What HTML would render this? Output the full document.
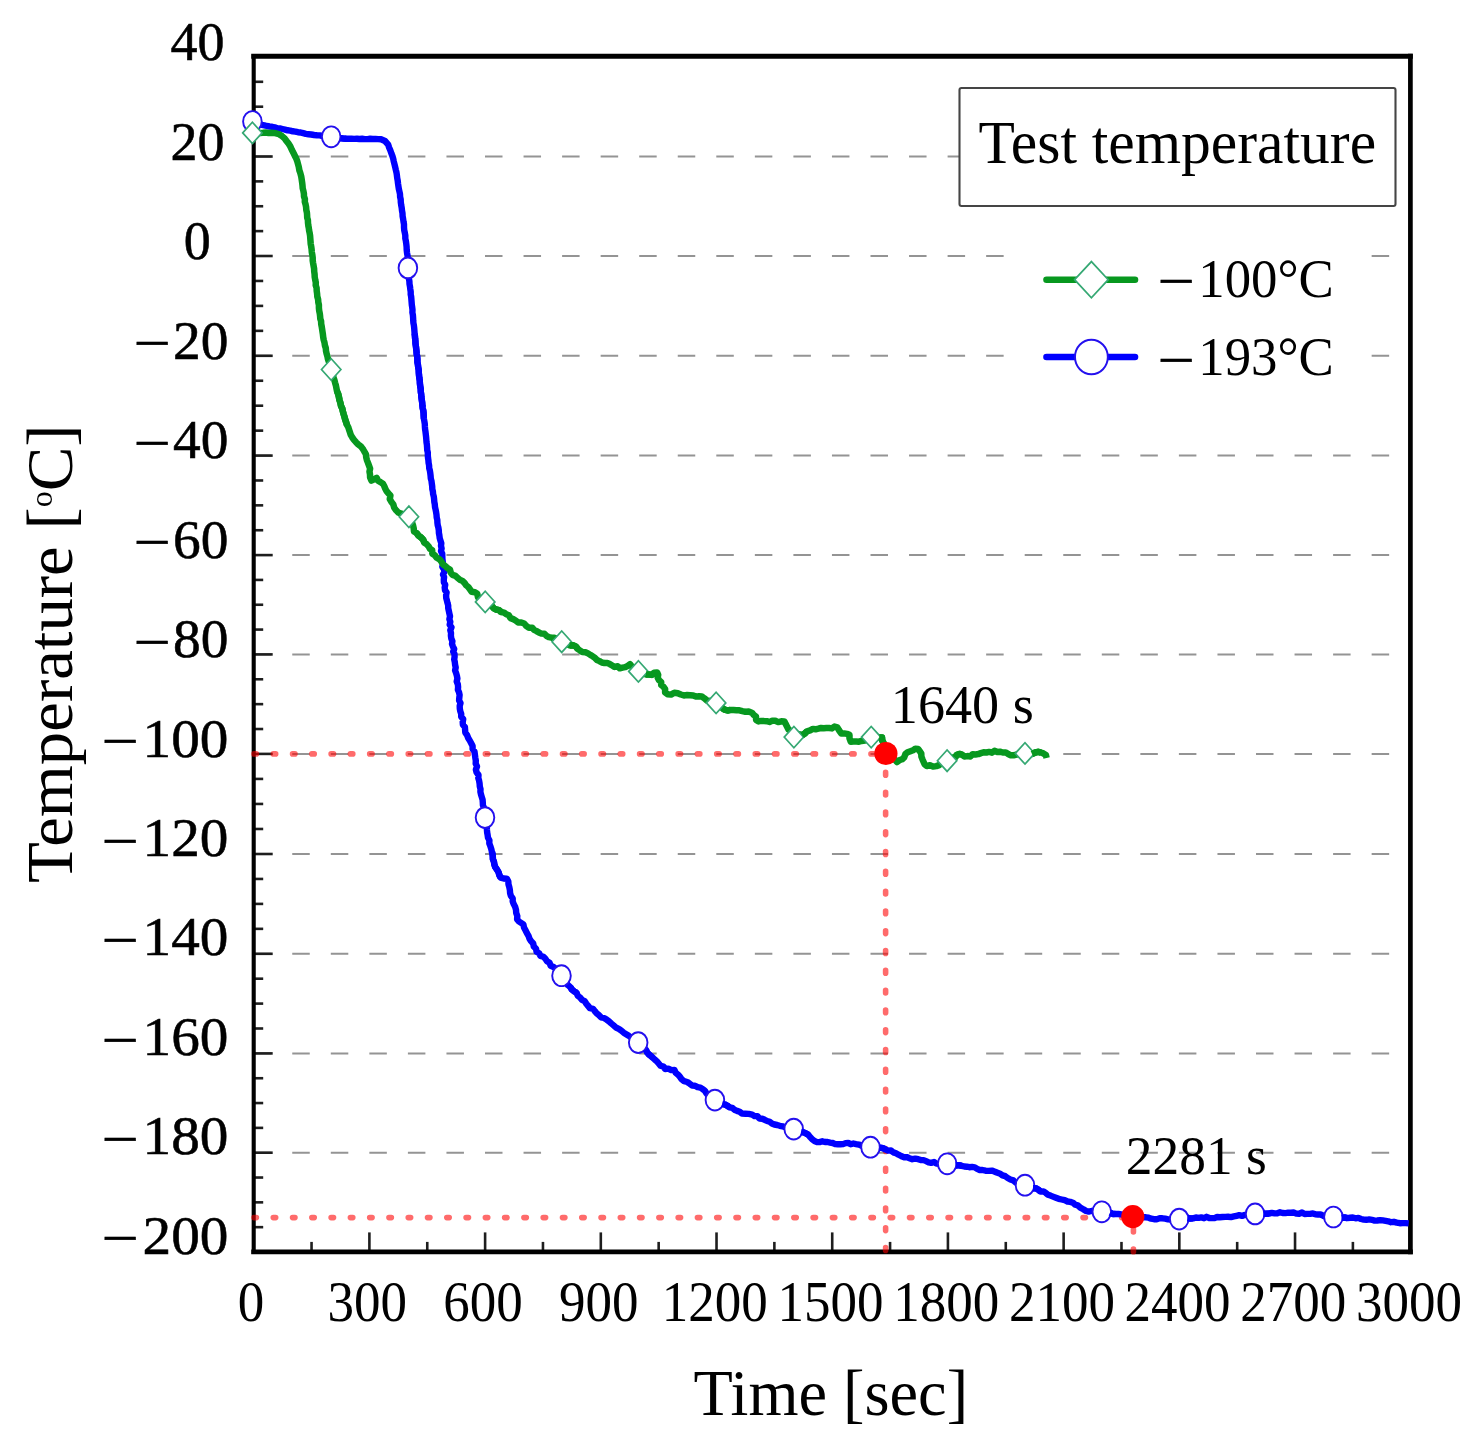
<!DOCTYPE html>
<html lang="en"><head><meta charset="utf-8"><title>Temperature vs time</title>
<style>html,body{margin:0;padding:0;background:#fff}svg{display:block}text{font-family:"Liberation Serif","DejaVu Serif",serif;fill:#000}</style></head><body>
<svg width="1475" height="1447" viewBox="0 0 1475 1447">
<rect x="0" y="0" width="1475" height="1447" fill="#fff"/>
<g stroke="#949494" stroke-width="2.0" stroke-dasharray="17.5 21.05" fill="none">
<line x1="253.70" y1="156.50" x2="1392.40" y2="156.50"/>
<line x1="253.70" y1="256.00" x2="1392.40" y2="256.00"/>
<line x1="253.70" y1="355.80" x2="1392.40" y2="355.80"/>
<line x1="253.70" y1="455.60" x2="1392.40" y2="455.60"/>
<line x1="253.70" y1="555.10" x2="1392.40" y2="555.10"/>
<line x1="253.70" y1="654.40" x2="1392.40" y2="654.40"/>
<line x1="253.70" y1="753.90" x2="888.50" y2="753.90"/>
<line x1="1063.25" y1="753.90" x2="1392.40" y2="753.90"/>
<line x1="253.70" y1="854.00" x2="1392.40" y2="854.00"/>
<line x1="253.70" y1="953.80" x2="1392.40" y2="953.80"/>
<line x1="253.70" y1="1053.40" x2="1392.40" y2="1053.40"/>
<line x1="253.70" y1="1152.70" x2="1392.40" y2="1152.70"/>
</g>
<rect x="1014" y="232" width="350" height="170" fill="#fff"/>
<rect x="959.5" y="88" width="436" height="118" rx="2" fill="#fff" stroke="#454545" stroke-width="2.1"/>
<g stroke="#1e1e1e" stroke-width="2.6" fill="none">
<line x1="253.70" y1="81.80" x2="263.20" y2="81.80"/>
<line x1="253.70" y1="106.70" x2="263.20" y2="106.70"/>
<line x1="253.70" y1="131.60" x2="263.20" y2="131.60"/>
<line x1="253.70" y1="156.50" x2="272.70" y2="156.50"/>
<line x1="253.70" y1="181.38" x2="263.20" y2="181.38"/>
<line x1="253.70" y1="206.25" x2="263.20" y2="206.25"/>
<line x1="253.70" y1="231.12" x2="263.20" y2="231.12"/>
<line x1="253.70" y1="256.00" x2="272.70" y2="256.00"/>
<line x1="253.70" y1="280.95" x2="263.20" y2="280.95"/>
<line x1="253.70" y1="305.90" x2="263.20" y2="305.90"/>
<line x1="253.70" y1="330.85" x2="263.20" y2="330.85"/>
<line x1="253.70" y1="355.80" x2="272.70" y2="355.80"/>
<line x1="253.70" y1="380.75" x2="263.20" y2="380.75"/>
<line x1="253.70" y1="405.70" x2="263.20" y2="405.70"/>
<line x1="253.70" y1="430.65" x2="263.20" y2="430.65"/>
<line x1="253.70" y1="455.60" x2="272.70" y2="455.60"/>
<line x1="253.70" y1="480.48" x2="263.20" y2="480.48"/>
<line x1="253.70" y1="505.35" x2="263.20" y2="505.35"/>
<line x1="253.70" y1="530.23" x2="263.20" y2="530.23"/>
<line x1="253.70" y1="555.10" x2="272.70" y2="555.10"/>
<line x1="253.70" y1="579.92" x2="263.20" y2="579.92"/>
<line x1="253.70" y1="604.75" x2="263.20" y2="604.75"/>
<line x1="253.70" y1="629.58" x2="263.20" y2="629.58"/>
<line x1="253.70" y1="654.40" x2="272.70" y2="654.40"/>
<line x1="253.70" y1="679.27" x2="263.20" y2="679.27"/>
<line x1="253.70" y1="704.15" x2="263.20" y2="704.15"/>
<line x1="253.70" y1="729.02" x2="263.20" y2="729.02"/>
<line x1="253.70" y1="753.90" x2="272.70" y2="753.90"/>
<line x1="253.70" y1="778.92" x2="263.20" y2="778.92"/>
<line x1="253.70" y1="803.95" x2="263.20" y2="803.95"/>
<line x1="253.70" y1="828.98" x2="263.20" y2="828.98"/>
<line x1="253.70" y1="854.00" x2="272.70" y2="854.00"/>
<line x1="253.70" y1="878.95" x2="263.20" y2="878.95"/>
<line x1="253.70" y1="903.90" x2="263.20" y2="903.90"/>
<line x1="253.70" y1="928.85" x2="263.20" y2="928.85"/>
<line x1="253.70" y1="953.80" x2="272.70" y2="953.80"/>
<line x1="253.70" y1="978.70" x2="263.20" y2="978.70"/>
<line x1="253.70" y1="1003.60" x2="263.20" y2="1003.60"/>
<line x1="253.70" y1="1028.50" x2="263.20" y2="1028.50"/>
<line x1="253.70" y1="1053.40" x2="272.70" y2="1053.40"/>
<line x1="253.70" y1="1078.23" x2="263.20" y2="1078.23"/>
<line x1="253.70" y1="1103.05" x2="263.20" y2="1103.05"/>
<line x1="253.70" y1="1127.88" x2="263.20" y2="1127.88"/>
<line x1="253.70" y1="1152.70" x2="272.70" y2="1152.70"/>
<line x1="253.70" y1="1177.53" x2="263.20" y2="1177.53"/>
<line x1="253.70" y1="1202.35" x2="263.20" y2="1202.35"/>
<line x1="253.70" y1="1227.17" x2="263.20" y2="1227.17"/>
<line x1="311.55" y1="1251.90" x2="311.55" y2="1241.90"/>
<line x1="369.40" y1="1251.90" x2="369.40" y2="1232.40"/>
<line x1="427.26" y1="1251.90" x2="427.26" y2="1241.90"/>
<line x1="485.11" y1="1251.90" x2="485.11" y2="1232.40"/>
<line x1="542.96" y1="1251.90" x2="542.96" y2="1241.90"/>
<line x1="600.81" y1="1251.90" x2="600.81" y2="1232.40"/>
<line x1="658.66" y1="1251.90" x2="658.66" y2="1241.90"/>
<line x1="716.52" y1="1251.90" x2="716.52" y2="1232.40"/>
<line x1="774.37" y1="1251.90" x2="774.37" y2="1241.90"/>
<line x1="832.22" y1="1251.90" x2="832.22" y2="1232.40"/>
<line x1="890.07" y1="1251.90" x2="890.07" y2="1241.90"/>
<line x1="947.92" y1="1251.90" x2="947.92" y2="1232.40"/>
<line x1="1005.78" y1="1251.90" x2="1005.78" y2="1241.90"/>
<line x1="1063.63" y1="1251.90" x2="1063.63" y2="1232.40"/>
<line x1="1121.48" y1="1251.90" x2="1121.48" y2="1241.90"/>
<line x1="1179.33" y1="1251.90" x2="1179.33" y2="1232.40"/>
<line x1="1237.18" y1="1251.90" x2="1237.18" y2="1241.90"/>
<line x1="1295.04" y1="1251.90" x2="1295.04" y2="1232.40"/>
<line x1="1352.89" y1="1251.90" x2="1352.89" y2="1241.90"/>
</g>
<g stroke="#000" stroke-linecap="square" fill="none"><line x1="253.70" y1="56.20" x2="253.70" y2="1251.90" stroke-width="4.1"/><line x1="1410.40" y1="56.20" x2="1410.40" y2="1251.90" stroke-width="4.7"/><line x1="253.70" y1="56.20" x2="1410.40" y2="56.20" stroke-width="4.9"/><line x1="253.70" y1="1251.90" x2="1410.40" y2="1251.90" stroke-width="4.9"/></g>
<g stroke="#ff0000" stroke-opacity="0.58" stroke-width="5.6" stroke-linecap="round" fill="none">
<line x1="254.0" y1="753.90" x2="878.22" y2="753.90" stroke-dasharray="2.4 16.88"/>
<line x1="254.0" y1="1217.60" x2="1125.44" y2="1217.60" stroke-dasharray="2.4 16.88"/>
<line x1="885.62" y1="772.4" x2="885.62" y2="1252" stroke-dasharray="2.8 17.0"/>
<line x1="1133.44" y1="1229.2" x2="1133.44" y2="1254" stroke-dasharray="2.8 17.0"/>
</g>
<path d="M252.9 121.8 L255.9 122.7 L258.8 123.9 L261.8 124.9 L264.4 125.4 L266.9 126.0 L269.5 126.5 L272.1 126.8 L274.7 127.3 L277.2 128.2 L279.9 128.4 L282.4 129.0 L285.0 129.6 L287.6 130.3 L290.2 130.6 L292.8 131.3 L295.4 131.6 L298.0 132.2 L300.6 132.5 L303.2 133.2 L305.8 133.9 L308.4 134.2 L311.2 134.5 L314.1 135.0 L316.9 135.3 L319.8 135.4 L322.6 136.0 L325.5 136.3 L328.4 136.5 L331.2 136.9 L334.4 137.1 L337.4 137.9 L340.6 138.2 L343.7 138.6 L346.3 138.7 L349.0 138.8 L351.6 138.8 L354.2 138.9 L356.9 138.7 L359.5 139.0 L362.2 138.8 L364.8 139.1 L367.4 139.1 L370.1 138.8 L372.7 139.0 L375.5 138.9 L378.2 139.1 L381.0 139.3 L385.0 141.0 L388.2 144.6 L389.1 147.5 L390.3 150.3 L391.3 153.2 L392.4 156.0 L393.2 158.7 L393.8 161.5 L394.5 164.3 L395.2 167.1 L395.8 169.8 L396.5 172.6 L396.9 175.3 L397.2 178.0 L397.7 180.7 L398.0 183.4 L398.4 186.1 L398.8 188.8 L399.4 191.4 L400.0 194.1 L400.1 196.8 L400.7 199.5 L400.8 202.3 L401.2 205.1 L401.7 207.8 L402.0 210.6 L402.5 213.3 L402.6 216.1 L403.1 218.9 L403.5 221.6 L404.0 224.4 L404.0 227.2 L404.2 230.0 L404.8 232.7 L405.3 235.5 L405.3 238.4 L405.9 241.2 L406.3 244.1 L406.6 246.9 L406.7 249.8 L407.0 252.7 L407.5 255.5 L407.8 258.6 L407.6 261.7 L408.0 264.8 L407.9 267.9 L408.1 270.6 L408.6 273.2 L408.6 275.9 L408.9 278.6 L409.4 281.3 L409.5 284.0 L410.0 286.6 L410.3 289.2 L410.7 291.8 L410.7 294.4 L411.2 296.9 L411.4 299.5 L411.6 302.1 L411.8 304.7 L412.2 307.3 L412.5 309.9 L412.4 312.5 L412.9 315.1 L413.1 317.7 L413.2 320.3 L413.4 322.9 L413.9 325.5 L414.2 328.1 L414.4 330.7 L414.6 333.3 L414.9 335.8 L415.1 338.4 L415.4 341.0 L415.5 343.6 L415.9 346.2 L416.2 348.8 L416.5 351.4 L416.7 354.1 L417.2 356.7 L417.4 359.3 L417.4 362.0 L417.9 364.6 L418.2 367.3 L418.7 369.9 L418.8 372.5 L419.0 375.2 L419.3 377.8 L419.8 380.6 L419.9 383.4 L420.2 386.1 L420.7 388.9 L420.8 391.7 L421.2 394.4 L421.4 397.2 L421.8 400.0 L422.2 402.7 L422.4 405.4 L422.7 408.1 L423.3 410.7 L423.6 413.4 L423.7 416.1 L423.9 418.8 L424.4 421.5 L424.8 424.1 L424.9 426.7 L425.1 429.3 L425.5 431.8 L425.8 434.4 L426.1 437.0 L426.3 439.6 L426.5 442.2 L426.9 444.8 L427.1 447.4 L427.2 450.0 L427.8 452.5 L427.8 455.1 L428.0 457.7 L428.4 460.3 L428.6 462.9 L429.1 465.5 L429.2 468.1 L429.9 470.7 L430.3 473.3 L430.6 475.9 L430.8 478.5 L431.5 481.0 L431.8 483.6 L432.2 486.2 L432.3 488.9 L432.9 491.4 L433.1 494.0 L433.8 496.6 L434.1 499.2 L434.3 501.8 L434.8 504.4 L435.0 507.0 L435.6 509.6 L436.1 512.2 L436.5 514.7 L436.7 517.4 L437.3 519.9 L437.4 522.6 L437.7 525.2 L438.4 527.7 L438.8 530.3 L438.9 533.0 L439.4 535.5 L439.7 538.1 L440.5 540.7 L441.3 543.2 L441.0 545.9 L441.6 548.5 L441.0 551.1 L442.2 553.6 L442.3 556.2 L442.4 558.8 L442.7 561.4 L443.0 564.0 L442.3 566.7 L443.9 569.2 L444.5 571.7 L443.0 574.5 L444.1 577.0 L443.8 579.7 L443.9 582.3 L445.2 584.8 L444.7 587.5 L445.0 590.1 L446.6 592.5 L446.1 595.2 L446.2 597.8 L446.9 600.4 L447.5 602.9 L448.2 605.5 L448.2 608.1 L448.8 610.8 L449.4 613.6 L450.0 616.3 L449.4 619.2 L450.3 621.8 L449.7 624.7 L451.5 627.3 L450.3 630.3 L451.0 633.0 L450.9 635.8 L451.3 638.5 L452.4 641.2 L452.0 643.9 L452.9 646.4 L454.2 648.9 L453.2 651.7 L454.5 654.1 L454.6 656.8 L454.2 659.4 L454.8 662.0 L455.1 664.8 L455.7 667.5 L455.1 670.4 L456.1 673.1 L456.9 675.9 L457.4 678.6 L456.7 681.5 L457.8 684.2 L458.1 687.0 L457.9 689.7 L459.0 692.3 L459.6 695.0 L459.3 697.8 L459.1 700.5 L460.5 703.1 L459.7 705.9 L459.8 708.6 L460.3 711.3 L461.2 713.9 L461.2 716.7 L463.2 719.1 L462.7 722.0 L462.9 724.7 L464.9 727.1 L465.1 729.8 L465.3 732.6 L467.1 735.1 L468.2 738.0 L469.8 740.6 L471.2 743.3 L472.6 746.0 L472.6 749.0 L474.5 751.7 L474.9 754.7 L475.3 757.7 L475.8 760.6 L475.7 763.7 L477.0 766.4 L475.9 769.6 L476.6 772.4 L478.5 775.0 L478.3 778.0 L479.1 780.7 L479.6 783.6 L479.8 786.5 L480.5 789.1 L480.4 791.9 L481.0 794.5 L481.8 797.1 L482.6 799.7 L482.8 802.4 L482.9 805.1 L484.1 808.1 L483.9 811.4 L484.1 814.5 L485.0 817.6 L485.6 820.5 L486.6 823.3 L486.8 826.2 L486.9 829.2 L487.1 832.1 L487.6 834.9 L488.0 837.8 L489.4 840.3 L489.3 843.3 L490.3 846.0 L491.2 848.7 L491.8 851.3 L492.5 853.8 L492.8 856.4 L492.9 859.1 L493.9 861.6 L494.3 864.2 L495.2 867.0 L496.9 869.6 L498.5 872.1 L499.3 875.0 L500.6 877.7 L503.6 878.5 L506.8 878.7 L508.3 881.3 L508.5 884.4 L509.3 887.2 L509.9 890.1 L510.1 893.1 L510.9 895.9 L512.7 898.3 L512.7 901.4 L513.7 904.1 L515.1 906.7 L516.0 909.8 L516.2 912.9 L517.3 916.0 L517.1 919.2 L518.8 921.4 L521.1 922.9 L523.4 924.4 L524.0 927.5 L525.5 930.3 L526.9 933.1 L528.5 935.8 L529.5 938.7 L531.1 941.2 L533.2 943.5 L533.8 946.5 L536.0 948.7 L536.6 951.8 L539.1 953.2 L540.4 955.9 L543.4 956.8 L545.4 958.8 L547.0 961.2 L549.6 962.8 L550.7 965.8 L553.6 967.0 L555.9 968.9 L556.9 972.0 L559.9 973.1 L561.5 975.7 L562.8 978.3 L564.8 980.3 L566.3 982.7 L567.9 985.1 L570.2 986.9 L571.7 989.3 L573.9 991.2 L576.6 992.7 L577.7 995.7 L580.1 997.5 L581.9 999.8 L584.7 1001.1 L586.3 1003.7 L588.1 1005.9 L589.9 1008.1 L593.1 1008.8 L594.8 1011.1 L596.6 1013.3 L598.8 1015.1 L601.0 1017.3 L604.0 1018.0 L606.6 1019.6 L609.0 1021.4 L611.2 1023.4 L613.6 1025.4 L615.9 1027.5 L618.8 1028.8 L621.3 1030.6 L623.7 1032.7 L626.2 1034.2 L628.7 1035.8 L631.0 1037.5 L633.8 1038.7 L635.8 1041.0 L638.2 1042.6 L639.4 1045.1 L641.9 1046.2 L643.3 1048.5 L645.9 1049.7 L647.0 1052.2 L648.7 1054.2 L650.7 1055.9 L652.7 1057.6 L654.7 1059.5 L656.9 1061.4 L658.7 1063.5 L660.5 1065.7 L663.5 1066.6 L665.1 1069.0 L668.3 1068.6 L671.3 1070.1 L674.5 1070.0 L675.7 1072.8 L678.1 1074.7 L680.0 1076.9 L681.7 1079.3 L684.1 1081.2 L687.2 1082.0 L689.7 1083.7 L692.1 1085.6 L695.0 1085.7 L697.6 1087.1 L700.4 1087.6 L702.7 1089.1 L704.9 1090.8 L706.4 1093.2 L708.2 1095.4 L711.0 1096.3 L712.6 1098.6 L714.9 1100.1 L717.4 1101.2 L719.5 1103.1 L722.1 1103.8 L724.8 1104.5 L727.2 1105.6 L729.4 1107.3 L732.3 1107.8 L734.4 1109.8 L737.0 1110.9 L739.7 1111.8 L741.9 1113.6 L745.4 1113.7 L748.8 1113.9 L752.2 1114.6 L754.5 1116.1 L757.4 1116.1 L759.4 1118.5 L762.2 1118.7 L764.7 1119.8 L767.1 1121.0 L769.7 1121.8 L771.9 1123.5 L774.4 1124.5 L777.1 1125.0 L779.8 1125.8 L782.6 1126.3 L785.3 1127.4 L788.0 1128.4 L791.0 1128.2 L793.7 1129.1 L796.0 1130.4 L798.3 1131.8 L801.0 1131.9 L803.6 1132.4 L806.0 1133.4 L808.3 1134.8 L810.1 1137.1 L812.2 1139.2 L814.5 1141.0 L817.0 1142.1 L819.6 1142.1 L822.3 1141.3 L824.9 1142.0 L827.6 1142.0 L830.1 1142.6 L832.7 1143.0 L835.2 1144.1 L837.8 1144.2 L840.5 1144.2 L843.1 1144.1 L845.6 1143.1 L848.2 1142.9 L850.7 1144.3 L853.4 1143.5 L856.0 1144.1 L858.9 1144.6 L861.7 1145.7 L864.9 1145.2 L867.8 1145.9 L870.5 1147.2 L873.6 1148.0 L876.7 1147.3 L879.8 1147.7 L882.9 1148.2 L885.4 1149.4 L888.0 1150.6 L891.0 1150.5 L893.3 1152.4 L896.0 1153.3 L898.5 1154.7 L901.1 1156.0 L903.7 1157.2 L906.7 1157.1 L909.5 1158.2 L912.3 1159.2 L915.3 1158.6 L918.2 1159.2 L920.8 1160.1 L923.6 1160.1 L926.1 1161.1 L928.6 1162.3 L931.2 1162.8 L934.0 1162.0 L936.5 1163.6 L939.2 1163.9 L941.9 1162.6 L944.5 1164.4 L947.2 1163.8 L950.1 1164.0 L952.9 1165.1 L955.8 1165.5 L958.9 1165.1 L961.7 1165.9 L964.3 1166.5 L966.9 1166.7 L969.4 1167.2 L972.1 1166.9 L974.8 1167.3 L977.2 1168.9 L979.7 1170.0 L982.5 1170.0 L985.6 1170.7 L988.7 1170.9 L991.9 1170.6 L994.9 1171.7 L997.5 1172.8 L1000.2 1173.7 L1002.5 1175.4 L1005.3 1176.2 L1007.7 1178.0 L1010.4 1179.5 L1013.3 1180.4 L1015.6 1182.5 L1018.7 1183.7 L1021.8 1184.5 L1025.0 1185.2 L1027.9 1185.6 L1030.1 1187.7 L1033.0 1188.2 L1035.9 1188.2 L1038.4 1189.7 L1040.5 1191.6 L1043.5 1191.4 L1045.8 1192.9 L1048.0 1194.7 L1050.5 1195.6 L1053.0 1196.6 L1055.9 1197.7 L1058.7 1198.8 L1061.7 1199.5 L1064.7 1200.2 L1067.5 1201.5 L1070.3 1201.9 L1072.9 1202.7 L1075.1 1204.7 L1077.8 1205.3 L1080.3 1207.6 L1083.3 1209.2 L1086.1 1211.0 L1088.7 1211.6 L1091.3 1211.0 L1094.0 1211.0 L1096.6 1211.3 L1099.1 1212.3 L1101.8 1211.8 L1104.7 1211.4 L1107.3 1212.6 L1110.1 1212.6 L1112.8 1214.0 L1115.6 1213.9 L1118.5 1214.0 L1121.3 1214.4 L1124.2 1214.9 L1127.0 1215.6 L1129.8 1216.4 L1132.7 1216.3 L1135.4 1216.4 L1137.9 1217.6 L1140.7 1216.6 L1143.3 1217.3 L1146.0 1217.3 L1148.6 1217.7 L1151.2 1218.7 L1154.0 1219.2 L1156.8 1219.2 L1159.6 1218.3 L1162.4 1218.3 L1165.2 1218.7 L1168.0 1219.4 L1170.8 1219.5 L1173.6 1219.5 L1176.4 1219.2 L1179.2 1219.1 L1181.9 1218.3 L1184.8 1218.6 L1187.5 1218.0 L1190.3 1218.5 L1193.1 1218.4 L1195.9 1217.5 L1198.7 1217.9 L1201.3 1217.4 L1204.0 1218.2 L1206.6 1216.8 L1209.3 1218.0 L1211.9 1218.1 L1214.5 1218.1 L1217.1 1217.0 L1219.8 1217.2 L1222.4 1217.0 L1225.3 1216.9 L1228.1 1216.8 L1231.0 1217.1 L1233.8 1216.4 L1236.6 1215.8 L1239.2 1215.2 L1242.0 1215.9 L1244.5 1215.0 L1247.2 1214.9 L1249.9 1214.8 L1252.4 1213.3 L1255.1 1213.9 L1257.9 1214.3 L1260.7 1214.0 L1263.5 1213.7 L1266.2 1213.7 L1269.0 1213.5 L1271.8 1212.9 L1274.6 1213.4 L1277.3 1213.3 L1280.0 1212.3 L1282.7 1213.0 L1285.5 1213.1 L1288.2 1212.7 L1290.9 1212.7 L1293.6 1212.5 L1296.3 1213.6 L1299.1 1213.7 L1302.0 1212.5 L1304.6 1214.0 L1307.4 1213.9 L1310.2 1213.9 L1312.9 1213.4 L1315.4 1214.3 L1318.0 1214.5 L1320.6 1214.5 L1323.1 1215.7 L1325.6 1216.7 L1328.3 1216.0 L1330.7 1217.3 L1333.4 1217.0 L1336.2 1217.4 L1339.0 1216.5 L1341.7 1217.9 L1344.5 1217.5 L1347.3 1218.1 L1350.1 1217.8 L1352.9 1217.5 L1355.6 1218.3 L1358.4 1217.9 L1361.0 1219.0 L1363.7 1219.6 L1366.4 1219.8 L1369.2 1219.4 L1371.9 1219.8 L1374.6 1220.6 L1377.3 1220.5 L1380.1 1220.1 L1382.9 1220.4 L1385.6 1220.8 L1388.3 1221.3 L1390.9 1222.2 L1393.9 1221.8 L1396.8 1222.6 L1399.8 1223.2 L1402.8 1223.1 L1405.7 1223.1 L1408.7 1223.4" fill="none" stroke="#0000ff" stroke-width="6.4" stroke-linejoin="round" stroke-linecap="butt"/>
<g fill="#fff" stroke="#2410ee" stroke-width="1.9">
<ellipse cx="252.4" cy="121.5" rx="9.3" ry="10.4"/>
<ellipse cx="331.2" cy="136.8" rx="9.3" ry="10.4"/>
<ellipse cx="407.9" cy="267.9" rx="9.3" ry="10.4"/>
<ellipse cx="485.0" cy="817.6" rx="9.3" ry="10.4"/>
<ellipse cx="561.5" cy="975.7" rx="9.3" ry="10.4"/>
<ellipse cx="638.2" cy="1042.6" rx="9.3" ry="10.4"/>
<ellipse cx="714.9" cy="1100.1" rx="9.3" ry="10.4"/>
<ellipse cx="793.7" cy="1129.1" rx="9.3" ry="10.4"/>
<ellipse cx="870.5" cy="1147.2" rx="9.3" ry="10.4"/>
<ellipse cx="947.2" cy="1163.8" rx="9.3" ry="10.4"/>
<ellipse cx="1025.0" cy="1185.2" rx="9.3" ry="10.4"/>
<ellipse cx="1101.8" cy="1211.8" rx="9.3" ry="10.4"/>
<ellipse cx="1179.2" cy="1219.1" rx="9.3" ry="10.4"/>
<ellipse cx="1255.1" cy="1213.9" rx="9.3" ry="10.4"/>
<ellipse cx="1333.4" cy="1217.0" rx="9.3" ry="10.4"/>
</g>
<path d="M340.6 138.2 L343.7 138.6 L346.3 138.7" fill="none" stroke="#0000ff" stroke-width="6.4" stroke-linejoin="round"/>
<path d="M414.6 333.3 L414.9 335.8 L415.1 338.4 L415.4 341.0 L415.5 343.6 L415.9 346.2 L416.2 348.8 L416.5 351.4 L416.7 354.1 L417.2 356.7 L417.4 359.3 L417.4 362.0 L417.9 364.6 L418.2 367.3 L418.7 369.9 L418.8 372.5 L419.0 375.2 L419.3 377.8 L419.8 380.6 L419.9 383.4 L420.2 386.1 L420.7 388.9 L420.8 391.7 L421.2 394.4 L421.4 397.2 L421.8 400.0 L422.2 402.7 L422.4 405.4 L422.7 408.1 L423.3 410.7 L423.6 413.4 L423.7 416.1 L423.9 418.8" fill="none" stroke="#0000ff" stroke-width="6.4" stroke-linejoin="round"/>
<path d="M491.8 851.3 L492.5 853.8 L492.8 856.4 L492.9 859.1 L493.9 861.6 L494.3 864.2 L495.2 867.0 L496.9 869.6 L498.5 872.1 L499.3 875.0 L500.6 877.7" fill="none" stroke="#0000ff" stroke-width="6.4" stroke-linejoin="round"/>
<path d="M570.2 986.9 L571.7 989.3 L573.9 991.2 L576.6 992.7" fill="none" stroke="#0000ff" stroke-width="6.4" stroke-linejoin="round"/>
<path d="M645.9 1049.7 L647.0 1052.2 L648.7 1054.2 L650.7 1055.9 L652.7 1057.6" fill="none" stroke="#0000ff" stroke-width="6.4" stroke-linejoin="round"/>
<path d="M722.1 1103.8 L724.8 1104.5 L727.2 1105.6 L729.4 1107.3" fill="none" stroke="#0000ff" stroke-width="6.4" stroke-linejoin="round"/>
<path d="M801.0 1131.9 L803.6 1132.4 L806.0 1133.4 L808.3 1134.8" fill="none" stroke="#0000ff" stroke-width="6.4" stroke-linejoin="round"/>
<path d="M879.8 1147.7 L882.9 1148.2 L885.4 1149.4" fill="none" stroke="#0000ff" stroke-width="6.4" stroke-linejoin="round"/>
<path d="M955.8 1165.5 L958.9 1165.1 L961.7 1165.9" fill="none" stroke="#0000ff" stroke-width="6.4" stroke-linejoin="round"/>
<path d="M1033.0 1188.2 L1035.9 1188.2 L1038.4 1189.7 L1040.5 1191.6" fill="none" stroke="#0000ff" stroke-width="6.4" stroke-linejoin="round"/>
<path d="M1110.1 1212.6 L1112.8 1214.0 L1115.6 1213.9" fill="none" stroke="#0000ff" stroke-width="6.4" stroke-linejoin="round"/>
<path d="M1187.5 1218.0 L1190.3 1218.5 L1193.1 1218.4" fill="none" stroke="#0000ff" stroke-width="6.4" stroke-linejoin="round"/>
<path d="M1263.5 1213.7 L1266.2 1213.7 L1269.0 1213.5" fill="none" stroke="#0000ff" stroke-width="6.4" stroke-linejoin="round"/>
<path d="M1341.7 1217.9 L1344.5 1217.5 L1347.3 1218.1" fill="none" stroke="#0000ff" stroke-width="6.4" stroke-linejoin="round"/>
<path d="M252.4 132.8 L255.0 132.7 L257.6 132.6 L260.2 132.9 L262.8 132.8 L265.6 132.6 L268.4 132.9 L271.2 132.8 L274.0 132.9 L279.0 134.2 L282.0 136.1 L284.6 138.4 L286.5 141.0 L288.5 143.6 L290.4 146.6 L291.8 149.8 L293.5 153.1 L295.2 156.5 L296.4 158.9 L297.3 161.4 L298.0 164.0 L298.8 167.0 L299.3 170.1 L300.3 173.0 L301.2 176.3 L301.7 179.6 L302.2 182.9 L302.5 185.6 L302.7 188.3 L303.4 191.0 L303.9 193.7 L304.0 196.4 L304.9 199.1 L304.8 201.8 L305.6 204.5 L306.1 207.2 L306.3 209.9 L306.9 212.5 L307.1 215.1 L307.2 217.7 L307.9 220.2 L308.0 222.9 L308.3 225.5 L308.8 228.0 L309.1 230.6 L309.7 233.2 L310.1 235.8 L310.3 238.4 L310.5 241.0 L310.7 243.8 L311.2 246.5 L311.6 249.3 L311.8 252.1 L312.3 254.8 L312.7 257.6 L312.7 260.4 L313.1 263.1 L313.6 265.9 L314.1 268.6 L314.2 271.4 L314.6 274.2 L314.7 277.0 L315.2 279.8 L315.8 282.5 L315.7 285.3 L316.6 288.0 L316.7 290.8 L317.1 293.6 L317.3 296.5 L318.1 299.3 L318.3 302.2 L318.9 305.0 L318.9 307.9 L319.2 310.8 L319.8 313.6 L320.1 316.2 L320.3 318.8 L321.1 321.3 L321.2 324.0 L321.7 326.5 L322.1 329.1 L322.5 331.7 L322.9 334.3 L323.2 337.1 L323.7 339.9 L324.5 342.6 L324.9 345.4 L325.8 348.1 L326.0 350.9 L326.6 353.6 L327.4 356.2 L327.9 359.0 L328.8 361.6 L329.8 364.1 L330.5 366.8 L331.2 369.5 L331.8 372.2 L333.0 374.8 L333.5 377.5 L334.4 380.1 L335.1 382.8 L335.9 385.5 L336.4 388.2 L337.0 391.2 L338.2 394.0 L338.9 397.0 L339.5 400.0 L340.4 402.9 L341.0 405.8 L342.3 408.6 L342.9 411.5 L343.7 414.4 L344.6 417.3 L345.3 419.9 L346.2 422.4 L347.0 424.9 L348.3 427.3 L349.1 429.9 L350.0 432.4 L350.8 434.9 L352.3 437.5 L354.0 439.9 L356.0 442.2 L358.2 444.4 L360.8 446.3 L362.7 448.7 L364.3 451.5 L365.9 454.1 L366.2 457.2 L366.9 460.1 L368.0 462.9 L369.0 465.7 L370.1 468.6 L369.5 471.6 L370.0 474.5 L370.1 477.5 L371.5 480.6 L374.2 479.4 L376.7 477.9 L378.0 480.7 L380.5 482.1 L382.9 483.7 L384.2 486.0 L385.2 488.5 L386.4 490.9 L388.1 493.0 L390.4 495.4 L389.8 499.1 L391.4 501.8 L393.3 504.4 L394.2 507.7 L396.1 510.3 L398.5 512.7 L401.2 513.5 L403.8 514.5 L406.7 514.9 L408.9 516.8 L409.6 519.8 L412.0 522.3 L413.0 525.2 L413.7 528.2 L414.0 531.4 L416.7 533.1 L418.5 535.7 L421.1 537.5 L423.2 539.7 L424.4 542.8 L426.8 544.3 L428.6 546.3 L429.9 548.8 L432.2 550.3 L432.3 553.7 L434.8 555.2 L436.7 557.7 L439.6 559.3 L441.5 561.8 L443.1 564.5 L445.4 566.1 L447.5 568.1 L449.9 569.5 L450.8 572.7 L452.6 574.9 L455.5 575.9 L457.6 577.8 L459.7 579.7 L462.4 580.9 L464.5 582.9 L466.1 585.3 L468.3 587.0 L470.0 589.4 L471.6 591.8 L474.9 592.3 L477.3 593.8 L478.0 597.4 L480.8 598.4 L483.6 599.4 L485.2 601.9 L487.4 603.4 L490.4 603.6 L492.1 606.1 L493.8 608.4 L496.2 609.5 L499.0 610.1 L501.1 612.0 L504.1 612.6 L506.3 614.3 L508.9 615.3 L510.5 618.1 L513.2 619.1 L515.6 620.5 L518.1 622.4 L521.3 622.5 L524.2 623.5 L526.4 626.1 L528.9 627.7 L532.2 627.8 L534.1 629.9 L536.6 631.1 L538.9 632.5 L541.4 633.6 L544.4 633.8 L546.4 635.8 L548.8 637.1 L551.5 637.7 L554.4 637.8 L556.9 638.7 L559.3 640.3 L561.7 641.7 L564.7 642.1 L567.2 644.0 L569.8 645.6 L573.0 645.3 L575.8 646.4 L577.6 648.8 L579.9 650.4 L582.3 651.9 L585.4 652.2 L588.0 653.4 L590.3 654.9 L592.7 656.3 L595.0 657.9 L597.0 660.0 L599.5 661.1 L601.9 662.5 L604.5 663.1 L607.3 663.1 L609.8 664.1 L612.2 665.5 L614.5 666.9 L617.7 666.3 L619.8 668.3 L622.5 667.6 L625.3 667.1 L627.8 665.8 L630.1 664.1 L631.8 666.4 L634.3 667.7 L636.9 669.0 L638.4 671.4 L640.8 672.9 L643.7 672.5 L646.0 674.4 L648.8 674.5 L651.9 674.9 L654.3 672.8 L657.1 672.4 L658.2 674.8 L657.7 677.7 L659.0 680.1 L661.2 682.1 L661.2 684.9 L663.5 686.7 L665.1 689.1 L665.1 692.4 L667.5 694.2 L671.0 694.6 L674.3 692.7 L677.8 693.2 L680.8 694.5 L683.9 695.4 L687.1 695.1 L690.3 695.2 L693.2 695.5 L695.9 696.6 L699.0 696.2 L701.8 696.5 L704.4 698.3 L706.9 700.5 L710.1 700.9 L713.2 701.8 L716.1 702.9 L717.8 705.3 L720.8 705.8 L722.4 708.2 L724.8 709.7 L727.5 710.5 L730.5 709.9 L733.5 710.1 L736.5 710.3 L739.4 710.3 L742.4 711.1 L745.5 711.8 L748.8 711.6 L751.9 712.7 L753.7 714.8 L756.0 716.5 L756.1 719.9 L758.6 721.4 L761.3 720.9 L764.0 721.1 L766.8 721.2 L769.5 721.9 L772.2 720.8 L775.3 720.8 L778.2 722.1 L781.3 721.3 L784.4 721.4 L785.7 724.1 L787.1 726.8 L788.5 729.5 L791.3 731.3 L792.2 734.5 L793.9 737.1 L796.4 735.5 L798.9 734.2 L802.2 735.2 L804.7 733.6 L807.0 731.3 L810.1 730.4 L812.9 728.9 L815.6 729.3 L818.3 728.7 L821.0 728.0 L823.7 728.3 L826.4 728.1 L829.1 728.0 L831.9 728.4 L834.5 726.5 L837.3 727.3 L839.2 730.5 L841.4 733.6 L844.2 733.4 L846.9 733.9 L849.5 734.9 L849.5 738.4 L850.8 741.7 L853.5 741.5 L856.3 741.5 L859.0 741.7 L861.7 740.9 L865.2 740.6 L868.0 738.2 L871.2 737.1 L873.9 737.5 L876.6 737.4 L879.3 737.5 L882.0 737.6 L882.2 740.4 L883.5 742.8 L884.0 745.5 L884.8 748.1 L884.3 751.0 L886.1 753.4 L887.9 755.5 L889.8 757.6 L891.9 759.4 L895.1 759.8 L896.9 762.0 L899.3 760.3 L902.1 759.3 L904.2 757.3 L905.4 754.1 L907.6 752.3 L910.5 751.2 L913.0 750.3 L915.3 748.7 L918.1 749.0 L919.8 751.3 L921.3 753.6 L921.4 756.6 L922.4 759.2 L923.5 761.7 L924.6 764.2 L926.8 766.1 L930.0 765.2 L933.1 766.6 L936.3 766.1 L939.2 765.1 L941.3 762.6 L944.8 762.9 L947.1 760.7 L950.1 760.4 L951.6 757.4 L955.0 757.6 L956.7 755.0 L959.3 753.9 L962.0 754.6 L964.4 756.5 L967.5 756.1 L970.4 756.4 L972.7 754.2 L975.6 754.4 L978.3 754.1 L980.9 753.1 L983.6 752.3 L986.4 752.5 L989.1 751.9 L991.9 752.7 L994.5 750.8 L997.3 752.0 L1000.0 751.7 L1002.7 752.5 L1005.8 752.4 L1008.2 754.0 L1010.8 755.3 L1013.7 755.2 L1016.5 754.6 L1019.2 753.1 L1022.3 755.0 L1025.0 753.4 L1028.5 753.8 L1032.0 754.0 L1035.3 752.5 L1038.1 751.8 L1040.8 752.5 L1043.4 753.4 L1045.9 755.0 L1046.6 758.0" fill="none" stroke="#07981f" stroke-width="6.5" stroke-linejoin="round" stroke-linecap="butt"/>
<g fill="#fff" stroke="#35a873" stroke-width="1.7" stroke-linejoin="miter">
<path d="M242.7 132.9 L252.4 122.2 L262.1 132.9 L252.4 143.6 Z"/>
<path d="M321.5 369.5 L331.2 358.8 L340.9 369.5 L331.2 380.2 Z"/>
<path d="M399.2 516.8 L408.9 506.1 L418.6 516.8 L408.9 527.5 Z"/>
<path d="M475.5 601.9 L485.2 591.2 L494.9 601.9 L485.2 612.6 Z"/>
<path d="M552.0 641.7 L561.7 631.0 L571.4 641.7 L561.7 652.4 Z"/>
<path d="M628.7 671.4 L638.4 660.7 L648.1 671.4 L638.4 682.1 Z"/>
<path d="M706.4 702.9 L716.1 692.2 L725.8 702.9 L716.1 713.6 Z"/>
<path d="M784.2 737.1 L793.9 726.4 L803.6 737.1 L793.9 747.8 Z"/>
<path d="M861.5 737.1 L871.2 726.4 L880.9 737.1 L871.2 747.8 Z"/>
<path d="M937.4 760.7 L947.1 750.0 L956.8 760.7 L947.1 771.4 Z"/>
<path d="M1015.3 753.4 L1025.0 742.7 L1034.7 753.4 L1025.0 764.1 Z"/>
</g>
<path d="M337.0 391.2 L338.2 394.0 L338.9 397.0 L339.5 400.0 L340.4 402.9 L341.0 405.8 L342.3 408.6 L342.9 411.5 L343.7 414.4 L344.6 417.3 L345.3 419.9 L346.2 422.4 L347.0 424.9" fill="none" stroke="#07981f" stroke-width="6.5" stroke-linejoin="round"/>
<path d="M416.7 533.1 L418.5 535.7 L421.1 537.5 L423.2 539.7 L424.4 542.8" fill="none" stroke="#07981f" stroke-width="6.5" stroke-linejoin="round"/>
<path d="M492.1 606.1 L493.8 608.4 L496.2 609.5 L499.0 610.1 L501.1 612.0" fill="none" stroke="#07981f" stroke-width="6.5" stroke-linejoin="round"/>
<path d="M569.8 645.6 L573.0 645.3 L575.8 646.4 L577.6 648.8" fill="none" stroke="#07981f" stroke-width="6.5" stroke-linejoin="round"/>
<path d="M646.0 674.4 L648.8 674.5 L651.9 674.9 L654.3 672.8" fill="none" stroke="#07981f" stroke-width="6.5" stroke-linejoin="round"/>
<path d="M722.4 708.2 L724.8 709.7 L727.5 710.5 L730.5 709.9" fill="none" stroke="#07981f" stroke-width="6.5" stroke-linejoin="round"/>
<path d="M802.2 735.2 L804.7 733.6 L807.0 731.3" fill="none" stroke="#07981f" stroke-width="6.5" stroke-linejoin="round"/>
<path d="M879.3 737.5 L882.0 737.6 L882.2 740.4 L883.5 742.8 L884.0 745.5 L884.8 748.1 L884.3 751.0 L886.1 753.4" fill="none" stroke="#07981f" stroke-width="6.5" stroke-linejoin="round"/>
<path d="M955.0 757.6 L956.7 755.0 L959.3 753.9 L962.0 754.6" fill="none" stroke="#07981f" stroke-width="6.5" stroke-linejoin="round"/>
<path d="M1032.0 754.0 L1035.3 752.5 L1038.1 751.8 L1040.8 752.5" fill="none" stroke="#07981f" stroke-width="6.5" stroke-linejoin="round"/>
<circle cx="885.9" cy="753.5" r="11.6" fill="#ff0000"/>
<circle cx="1132.8" cy="1216.6" r="11.6" fill="#ff0000"/>
<line x1="1046.5" y1="279.7" x2="1135" y2="279.7" stroke="#07981f" stroke-width="6.6" stroke-linecap="round"/>
<path d="M1074.6 279.7 L1091.4 261.6 L1108.2 279.7 L1091.4 297.8 Z" fill="#fff" stroke="#35a873" stroke-width="1.7"/>
<line x1="1046.5" y1="357" x2="1135" y2="357" stroke="#0000ff" stroke-width="6.6" stroke-linecap="round"/>
<ellipse cx="1091.4" cy="357" rx="16.4" ry="17.3" fill="#fff" stroke="#2410ee" stroke-width="1.9"/>
<text x="237.7" y="1321.4" font-size="57" text-anchor="start" textLength="26.5" lengthAdjust="spacingAndGlyphs">0</text>
<text x="327.6" y="1321.4" font-size="57" text-anchor="start" textLength="79.5" lengthAdjust="spacingAndGlyphs">300</text>
<text x="443.3" y="1321.4" font-size="57" text-anchor="start" textLength="79.5" lengthAdjust="spacingAndGlyphs">600</text>
<text x="559.0" y="1321.4" font-size="57" text-anchor="start" textLength="79.5" lengthAdjust="spacingAndGlyphs">900</text>
<text x="661.8" y="1321.4" font-size="57" text-anchor="start" textLength="106.0" lengthAdjust="spacingAndGlyphs">1200</text>
<text x="777.5" y="1321.4" font-size="57" text-anchor="start" textLength="106.0" lengthAdjust="spacingAndGlyphs">1500</text>
<text x="893.2" y="1321.4" font-size="57" text-anchor="start" textLength="106.0" lengthAdjust="spacingAndGlyphs">1800</text>
<text x="1008.9" y="1321.4" font-size="57" text-anchor="start" textLength="106.0" lengthAdjust="spacingAndGlyphs">2100</text>
<text x="1124.6" y="1321.4" font-size="57" text-anchor="start" textLength="106.0" lengthAdjust="spacingAndGlyphs">2400</text>
<text x="1240.3" y="1321.4" font-size="57" text-anchor="start" textLength="106.0" lengthAdjust="spacingAndGlyphs">2700</text>
<text x="1356.0" y="1321.4" font-size="57" text-anchor="start" textLength="106.0" lengthAdjust="spacingAndGlyphs">3000</text>
<text x="170.4" y="60.3" font-size="54" text-anchor="start" textLength="54.0" lengthAdjust="spacingAndGlyphs" stroke="#000" stroke-width="0.55">40</text>
<text x="170.4" y="159.8" font-size="54" text-anchor="start" textLength="54.0" lengthAdjust="spacingAndGlyphs" stroke="#000" stroke-width="0.55">20</text>
<text x="183.8" y="259.2" font-size="54" text-anchor="start" textLength="27.0" lengthAdjust="spacingAndGlyphs" stroke="#000" stroke-width="0.55">0</text>
<text x="173.0" y="358.7" font-size="54" text-anchor="start" textLength="55.4" lengthAdjust="spacingAndGlyphs" stroke="#000" stroke-width="0.55">20</text>
<text x="133.4" y="361.3" font-size="54" textLength="37.0" lengthAdjust="spacingAndGlyphs" stroke="#000" stroke-width="0.6">−</text>
<text x="173.0" y="458.1" font-size="54" text-anchor="start" textLength="55.4" lengthAdjust="spacingAndGlyphs" stroke="#000" stroke-width="0.55">40</text>
<text x="133.4" y="460.7" font-size="54" textLength="37.0" lengthAdjust="spacingAndGlyphs" stroke="#000" stroke-width="0.6">−</text>
<text x="173.0" y="557.6" font-size="54" text-anchor="start" textLength="55.4" lengthAdjust="spacingAndGlyphs" stroke="#000" stroke-width="0.55">60</text>
<text x="133.4" y="560.2" font-size="54" textLength="37.0" lengthAdjust="spacingAndGlyphs" stroke="#000" stroke-width="0.6">−</text>
<text x="173.0" y="657.1" font-size="54" text-anchor="start" textLength="55.4" lengthAdjust="spacingAndGlyphs" stroke="#000" stroke-width="0.55">80</text>
<text x="133.4" y="659.7" font-size="54" textLength="37.0" lengthAdjust="spacingAndGlyphs" stroke="#000" stroke-width="0.6">−</text>
<text x="142.6" y="756.5" font-size="54" text-anchor="start" textLength="85.8" lengthAdjust="spacingAndGlyphs" stroke="#000" stroke-width="0.55">100</text>
<text x="101.4" y="759.1" font-size="54" textLength="37.0" lengthAdjust="spacingAndGlyphs" stroke="#000" stroke-width="0.6">−</text>
<text x="142.6" y="856.0" font-size="54" text-anchor="start" textLength="85.8" lengthAdjust="spacingAndGlyphs" stroke="#000" stroke-width="0.55">120</text>
<text x="101.4" y="858.6" font-size="54" textLength="37.0" lengthAdjust="spacingAndGlyphs" stroke="#000" stroke-width="0.6">−</text>
<text x="142.6" y="955.4" font-size="54" text-anchor="start" textLength="85.8" lengthAdjust="spacingAndGlyphs" stroke="#000" stroke-width="0.55">140</text>
<text x="101.4" y="958.0" font-size="54" textLength="37.0" lengthAdjust="spacingAndGlyphs" stroke="#000" stroke-width="0.6">−</text>
<text x="142.6" y="1054.9" font-size="54" text-anchor="start" textLength="85.8" lengthAdjust="spacingAndGlyphs" stroke="#000" stroke-width="0.55">160</text>
<text x="101.4" y="1057.5" font-size="54" textLength="37.0" lengthAdjust="spacingAndGlyphs" stroke="#000" stroke-width="0.6">−</text>
<text x="142.6" y="1154.4" font-size="54" text-anchor="start" textLength="85.8" lengthAdjust="spacingAndGlyphs" stroke="#000" stroke-width="0.55">180</text>
<text x="101.4" y="1157.0" font-size="54" textLength="37.0" lengthAdjust="spacingAndGlyphs" stroke="#000" stroke-width="0.6">−</text>
<text x="142.6" y="1253.8" font-size="54" text-anchor="start" textLength="85.8" lengthAdjust="spacingAndGlyphs" stroke="#000" stroke-width="0.55">200</text>
<text x="101.4" y="1256.4" font-size="54" textLength="37.0" lengthAdjust="spacingAndGlyphs" stroke="#000" stroke-width="0.6">−</text>
<text x="693.5" y="1414.9" font-size="66" text-anchor="start" textLength="274.6" lengthAdjust="spacingAndGlyphs">Time [sec]</text>
<g transform="translate(71.9 883) rotate(-90)"><text x="0" y="0" font-size="64.5" textLength="458.6" lengthAdjust="spacingAndGlyphs">Temperature [<tspan font-size="31" dy="-19.5">o</tspan><tspan dy="19.5">C]</tspan></text></g>
<text x="978.6" y="162.7" font-size="61.5" text-anchor="start" textLength="397.5" lengthAdjust="spacingAndGlyphs">Test temperature</text>
<text x="1157.6" y="299.1" font-size="54" textLength="37.0" lengthAdjust="spacingAndGlyphs" stroke="#000" stroke-width="0.6">−</text>
<text x="1198.3" y="296.5" font-size="54" text-anchor="start" textLength="135.5" lengthAdjust="spacingAndGlyphs">100°C</text>
<text x="1157.6" y="377.6" font-size="54" textLength="37.0" lengthAdjust="spacingAndGlyphs" stroke="#000" stroke-width="0.6">−</text>
<text x="1198.3" y="375.0" font-size="54" text-anchor="start" textLength="135.5" lengthAdjust="spacingAndGlyphs">193°C</text>
<text x="890.8" y="722.7" font-size="54" text-anchor="start" textLength="143.0" lengthAdjust="spacingAndGlyphs">1640 s</text>
<text x="1125.8" y="1173.6" font-size="54" text-anchor="start" textLength="141.0" lengthAdjust="spacingAndGlyphs">2281 s</text>
</svg></body></html>
